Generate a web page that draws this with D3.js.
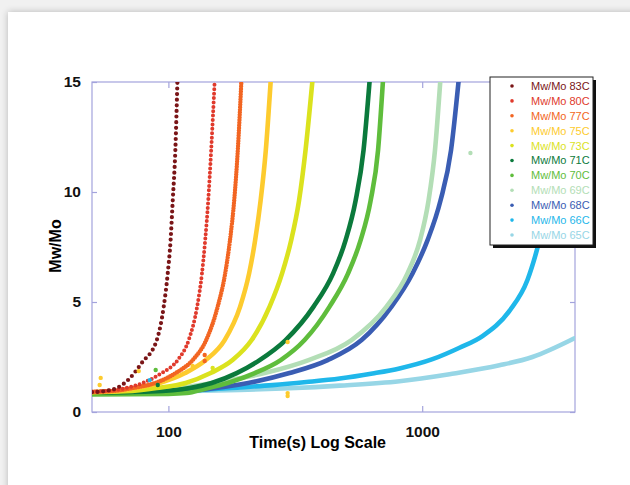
<!DOCTYPE html>
<html>
<head>
<meta charset="utf-8">
<script src="https://cdn.jsdelivr.net/npm/d3@7"></script>
<style>
  body { margin: 0; background: #eeeeee; }
  svg { display: block; font-family: "Liberation Sans", Arial, sans-serif; }
</style>
</head>
<body>
<svg id="chart" width="630" height="485"></svg>
<script>
// series labels and colours (legend order)
const seriesNames = ["Mw/Mo 83C", "Mw/Mo 80C", "Mw/Mo 77C", "Mw/Mo 75C", "Mw/Mo 73C", "Mw/Mo 71C",
                     "Mw/Mo 70C", "Mw/Mo 69C", "Mw/Mo 68C", "Mw/Mo 66C", "Mw/Mo 65C"];
const seriesColors = ["#7a1517", "#e03a2c", "#f26522", "#fdcb2e", "#dbe21e", "#0b7a3c",
                      "#5fbd3c", "#b3deb6", "#3a5db3", "#1fb7ea", "#97d6e6"];

// [time (s), Mw/Mo]
const s83 = [[50, 0.9], [56, 0.95], [62.6, 1.09], [70, 1.5], [78.5, 2.23], [90, 3.27], [95.8, 4.77],
             [99.4, 6.3], [102, 7.8], [104, 9.6], [106.5, 11.9], [108.5, 15]];
const s80 = [[50, 0.92], [58, 0.97], [67.9, 1.09], [79.2, 1.32], [94.1, 1.77], [108.8, 2.36], [120.2, 3.27],
             [129.8, 4.79], [135.6, 6.3], [139.6, 7.8], [143.5, 9.6], [147.4, 11.9], [152.1, 15]];
const s77 = [[50, 0.92], [61, 0.96], [72.4, 1.09], [88.7, 1.32], [106.8, 1.77], [124.6, 2.36], [140.9, 3.27],
             [156.4, 4.79], [167.4, 6.3], [174.8, 7.8], [181.6, 9.6], [187.7, 11.9], [193.8, 15]];
const s75 = [[50, 0.9], [62, 0.94], [74.3, 1.09], [92.4, 1.32], [116.4, 1.77], [140.3, 2.36], [166.6, 3.27],
             [191.7, 4.79], [208, 6.3], [219.6, 7.8], [230.8, 9.6], [242, 11.9], [252.8, 15]];
const s73 = [[50, 0.9], [68, 0.94], [89.9, 1.09], [117, 1.32], [146.7, 1.77], [179, 2.36], [212.8, 3.27],
             [250.5, 4.79], [280.5, 6.3], [304.5, 7.8], [327, 9.6], [347, 11.9], [369, 15]];
const s71 = [[50, 0.88], [85, 0.93], [121.3, 1.09], [148.1, 1.32], [185.8, 1.77], [228.8, 2.36], [289.6, 3.27],
             [373.3, 4.79], [445.7, 6.3], [498.9, 7.8], [546.4, 9.6], [587.3, 11.9], [620, 15]];
const s70 = [[50, 0.8], [100, 0.82], [118, 0.86], [139, 1.05], [171, 1.32], [219, 1.77], [277, 2.36],
             [344, 3.27], [431.5, 4.79], [510.5, 6.3], [571.6, 7.8], [626, 9.6], [670, 11.9], [700, 15]];
const s69 = [[50, 0.88], [75, 0.92], [96.7, 1.02], [145.4, 1.3], [239.4, 1.77], [356.7, 2.36], [526.8, 3.27],
             [723.5, 4.79], [875.2, 6.3], [980.2, 7.8], [1058.8, 9.6], [1123, 11.9], [1177.7, 15]];
const s68 = [[50, 0.86], [90, 0.9], [139, 1.03], [191, 1.25], [300, 1.77], [424, 2.36], [577, 3.27],
             [757, 4.79], [916, 6.3], [1049, 7.8], [1180, 9.6], [1299, 11.9], [1390, 15]];
const s66 = [[50, 0.9], [90, 0.95], [133, 1.0], [191, 1.12], [257, 1.22], [350, 1.36], [473, 1.52],
             [637, 1.75], [814, 1.98], [1098, 2.4], [1403, 2.92], [1728, 3.45], [2207, 4.6], [2598, 6.0],
             [2897, 7.8], [3171, 9.8], [3472, 12.2], [3802, 15.2]];
const s65 = [[50, 0.9], [100, 0.93], [191, 1.0], [300, 1.08], [473, 1.2], [814, 1.4], [1281, 1.72],
             [2015, 2.12], [2718, 2.5], [3980, 3.35]];
const seriesValues = [s83, s80, s77, s75, s73, s71, s70, s69, s68, s66, s65];

// a few stray readings sitting off the curves
const strayPoints = [
  ["Mw/Mo 75C", 54.1, 1.55], ["Mw/Mo 75C", 53.6, 1.23], ["Mw/Mo 75C", 76.4, 1.86], ["Mw/Mo 75C", 124.6, 2.09],
  ["Mw/Mo 75C", 295, 3.18], ["Mw/Mo 75C", 295, 0.86], ["Mw/Mo 75C", 295, 0.73], ["Mw/Mo 70C", 89.1, 1.91],
  ["Mw/Mo 77C", 139, 2.59], ["Mw/Mo 77C", 139, 2.32], ["Mw/Mo 73C", 149.4, 2.0], ["Mw/Mo 69C", 1549, 11.77],
  ["Mw/Mo 66C", 84.4, 1.45], ["Mw/Mo 71C", 90.8, 1.23]
];

const xTicks = [100, 1000];
const yTicks = [0, 5, 10, 15];

const svg = d3.select("#chart");
const margin = {top: 82, right: 55, bottom: 73, left: 92};
const width = 630 - margin.left - margin.right;
const height = 485 - margin.top - margin.bottom;
const axisColor = "#a3a3dc";

// page card with soft shadow
const defs = svg.append("defs");
const shadow = defs.append("filter").attr("id", "card").attr("x", "-5%").attr("y", "-5%")
  .attr("width", "110%").attr("height", "110%");
shadow.append("feGaussianBlur").attr("in", "SourceAlpha").attr("stdDeviation", 3.5);
shadow.append("feComponentTransfer").append("feFuncA").attr("type", "linear").attr("slope", 0.25);
const fm = shadow.append("feMerge");
fm.append("feMergeNode");
fm.append("feMergeNode").attr("in", "SourceGraphic");

svg.append("rect").attr("width", 630).attr("height", 485).attr("fill", "#f1f1f1");
svg.append("rect").attr("x", 8).attr("y", 12).attr("width", 680).attr("height", 540)
  .attr("fill", "#fff").attr("filter", "url(#card)");

defs.append("clipPath").attr("id", "plot").append("rect")
  .attr("width", width).attr("height", height);

const x = d3.scaleLog().domain([50, 4000]).range([0, width]);
const y = d3.scaleLinear().domain([0, 15]).range([height, 0]);

const g = svg.append("g").attr("transform", `translate(${margin.left},${margin.top})`);

// frame + inward ticks
g.append("rect").attr("width", width).attr("height", height)
  .attr("fill", "none").attr("stroke", axisColor).attr("stroke-width", 1.2);

const xAxisB = g.append("g").attr("transform", `translate(0,${height})`)
  .call(d3.axisBottom(x).tickValues(xTicks).tickSizeInner(-6).tickSizeOuter(0).tickFormat(d3.format("d")).tickPadding(14));
const xAxisT = g.append("g")
  .call(d3.axisTop(x).tickValues(xTicks).tickSizeInner(-6).tickSizeOuter(0).tickFormat(""));
const yAxisL = g.append("g")
  .call(d3.axisLeft(y).tickValues(yTicks).tickSizeInner(-5).tickSizeOuter(0).tickPadding(11));
const yAxisR = g.append("g").attr("transform", `translate(${width},0)`)
  .call(d3.axisRight(y).tickValues(yTicks).tickSizeInner(-5).tickSizeOuter(0).tickFormat(""));

[xAxisB, xAxisT, yAxisL, yAxisR].forEach(a => {
  a.select(".domain").remove();
  a.selectAll("line").attr("stroke", axisColor).attr("stroke-width", 1.2);
  a.selectAll("text").attr("fill", "#111").style("font-size", "15.5px").style("font-weight", "bold")
    .style("font-family", "'Liberation Sans', Arial, sans-serif");
});
xAxisB.selectAll(".tick text").attr("dy", "0.71em");

// curves
const line = d3.line()
  .x(d => x(d[0]))
  .y(d => y(d[1]))
  .curve(d3.curveMonotoneX);

const plot = g.append("g").attr("clip-path", "url(#plot)");

// cooler runs first so the hot ones sit on top
const order = d3.range(seriesNames.length).reverse();
order.forEach(i => {
  const p = plot.append("path")
    .datum(seriesValues[i])
    .attr("fill", "none")
    .attr("stroke", seriesColors[i])
    .attr("stroke-linecap", "round")
    .attr("stroke-width", 4.6)
    .attr("d", line);
  if (i === 0) p.attr("stroke-width", 4.2).attr("stroke-dasharray", "0 5.6");
  if (i === 1) p.attr("stroke-width", 4).attr("stroke-dasharray", "0 4.4");
  if (i === 2) p.attr("stroke-width", 4.4).attr("stroke-dasharray", "0 2.6");
});

plot.selectAll("circle.stray")
  .data(strayPoints)
  .join("circle")
  .attr("class", "stray")
  .attr("cx", d => x(d[1]))
  .attr("cy", d => y(d[2]))
  .attr("r", 2.2)
  .attr("fill", d => seriesColors[seriesNames.indexOf(d[0])]);

// axis titles
svg.append("text")
  .attr("x", 386).attr("y", 448)
  .attr("text-anchor", "end")
  .style("font-size", "16px").style("font-weight", "bold")
  .text("Time(s) Log Scale");

svg.append("text")
  .attr("transform", "translate(61,246) rotate(-90)")
  .attr("text-anchor", "middle")
  .style("font-size", "16px").style("font-weight", "bold")
  .text("Mw/Mo");

// legend
const lg = svg.append("g").attr("transform", "translate(490,77)");
lg.append("rect").attr("x", 3).attr("y", 3).attr("width", 103).attr("height", 168).attr("fill", "#111");
lg.append("rect").attr("width", 103).attr("height", 168).attr("fill", "#fff")
  .attr("stroke", "#222").attr("stroke-width", 1);

const rowY = d3.scalePoint().domain(seriesNames).range([9, 158]);
const rows = lg.selectAll("g.row").data(seriesNames).join("g")
  .attr("class", "row")
  .attr("transform", d => `translate(0,${rowY(d)})`);
rows.append("circle").attr("cx", 22).attr("cy", 0).attr("r", 1.8)
  .attr("fill", (d, i) => seriesColors[i]);
rows.append("text").attr("x", 41).attr("dy", "0.36em")
  .style("font-size", "11px")
  .attr("fill", (d, i) => seriesColors[i])
  .text(d => d);
</script>
</body>
</html>
